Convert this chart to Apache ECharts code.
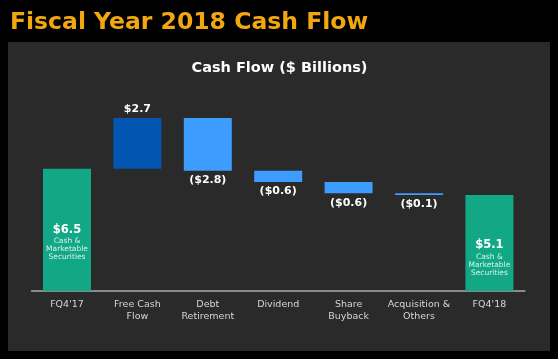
<!DOCTYPE html>
<html>
<head>
<meta charset="utf-8">
<script src="https://cdn.jsdelivr.net/npm/echarts@6/dist/echarts.min.js"></script>
<style>
html,body{margin:0;padding:0;background:#000;}
#c{width:558px;height:359px;}
</style>
</head>
<body>
<div id="c"></div>
<script>
const categories = ["FQ4'17", 'Free Cash\nFlow', 'Debt\nRetirement', 'Dividend', 'Share\nBuyback', 'Acquisition &\nOthers', "FQ4'18"];
const changes = [6.5, 2.7, -2.8, -0.6, -0.6, -0.1, 5.1];
const kinds = ['total', 'up', 'down', 'down', 'down', 'down', 'total'];
const valueLabels = ['$6.5', '$2.7', '($2.8)', '($0.6)', '($0.6)', '($0.1)', '$5.1'];
const totalNote = ['Cash &', 'Marketable', 'Securities'];

const colors = { total: '#12a886', up: '#0256b2', down: '#3c9dff' };
const FONT = 'DejaVu Sans';

let running = 0;
const baseData = [];
const barData = [];
changes.forEach((v, i) => {
  const k = kinds[i];
  let base, h;
  if (k === 'total') { base = 0; h = v; running = v; }
  else if (k === 'up') { base = running; h = v; running += v; }
  else { running += v; base = running; h = -v; }
  baseData.push(+base.toFixed(2));
  let label;
  if (k === 'total') {
    label = {
      show: true, position: 'inside', offset: [0, i === 0 ? 12 : 14],
      formatter: '{v|' + valueLabels[i] + '}\n' + totalNote.map(t => '{n|' + t + '}').join('\n'),
      rich: {
        v: { fontFamily: FONT, fontWeight: 'bold', fontSize: 11.5, color: '#ffffff', lineHeight: 15, align: 'center' },
        n: { fontFamily: FONT, fontSize: 7.5, color: '#d8f3ea', lineHeight: 8, align: 'center' }
      }
    };
  } else if (k === 'up') {
    label = { show: true, position: 'top', distance: 3, formatter: valueLabels[i],
      fontFamily: FONT, fontWeight: 'bold', fontSize: 11, color: '#ffffff' };
  } else {
    label = { show: true, position: 'bottom', distance: 4, formatter: valueLabels[i],
      fontFamily: FONT, fontWeight: 'bold', fontSize: 11, color: '#ffffff' };
  }
  barData.push({ value: +h.toFixed(2), itemStyle: { color: colors[k] }, label });
});

const chart = echarts.init(document.getElementById('c'), null, { renderer: 'canvas' });
chart.setOption({
  backgroundColor: '#000000',
  animation: false,
  graphic: [
    { type: 'rect', z: -10, shape: { x: 8, y: 42, width: 542, height: 309 }, style: { fill: '#2a2a2a' }, silent: true },
    { type: 'text', x: 10, y: 23, style: { text: 'Fiscal Year 2018 Cash Flow', fill: '#f2a70f', font: 'bold 23.5px "DejaVu Sans"', textVerticalAlign: 'middle' } },
    { type: 'text', x: 279.5, y: 68, style: { text: 'Cash Flow ($ Billions)', fill: '#ffffff', font: 'bold 14.5px "DejaVu Sans"', textAlign: 'center', textVerticalAlign: 'middle' } }
  ],
  grid: { left: 31.8, right: 33.4, top: 103, bottom: 68 },
  xAxis: {
    type: 'category',
    data: categories,
    axisLine: { lineStyle: { color: '#8a8a8a', width: 2 } },
    axisTick: { show: false },
    axisLabel: { color: '#d6d6d6', fontFamily: FONT, fontSize: 9.5, lineHeight: 11.5, margin: 8, interval: 0 }
  },
  yAxis: { type: 'value', min: 0, max: 10, show: false, splitLine: { show: false } },
  series: [
    { type: 'bar', stack: 'w', data: baseData, barWidth: 48, itemStyle: { color: 'transparent' }, silent: true },
    { type: 'bar', stack: 'w', data: barData, barWidth: 48, silent: true }
  ]
});
</script>
</body>
</html>
